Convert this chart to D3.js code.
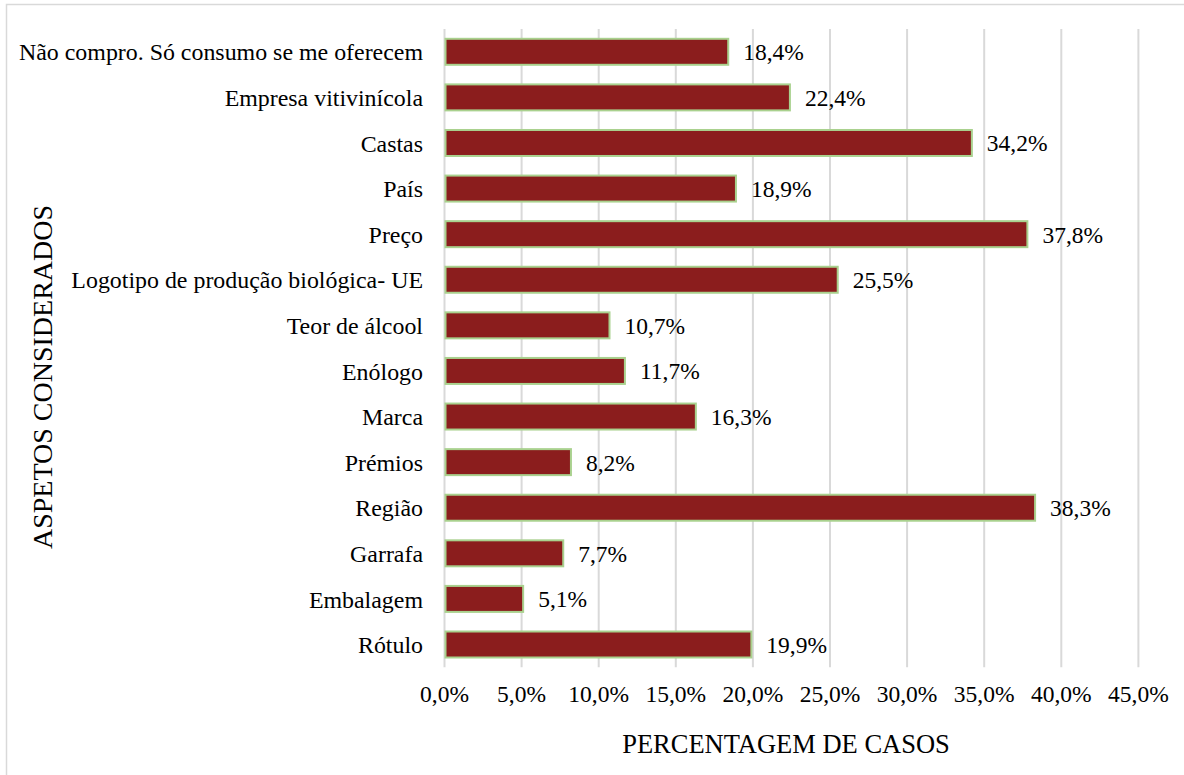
<!DOCTYPE html>
<html>
<head>
<meta charset="utf-8">
<script src="https://cdn.jsdelivr.net/npm/d3@7"></script>
<style>
  html, body { margin: 0; padding: 0; background: #fff; }
</style>
</head>
<body>
<svg id="chart" width="1184" height="775"></svg>
<script>
// Aspects considered when buying wine (% of cases)
const categories = [
  "Não compro. Só consumo se me oferecem",
  "Empresa vitivinícola",
  "Castas",
  "País",
  "Preço",
  "Logotipo de produção biológica- UE",
  "Teor de álcool",
  "Enólogo",
  "Marca",
  "Prémios",
  "Região",
  "Garrafa",
  "Embalagem",
  "Rótulo"
];
const values = [18.4, 22.4, 34.2, 18.9, 37.8, 25.5, 10.7, 11.7, 16.3, 8.2, 38.3, 7.7, 5.1, 19.9];
const xTicks = [0, 5, 10, 15, 20, 25, 30, 35, 40, 45];
const xTitle = "PERCENTAGEM DE CASOS";
const yTitle = "ASPETOS CONSIDERADOS";

const fmt = v => v.toFixed(1).replace(".", ",") + "%";
const FONT = "'Liberation Serif', 'Times New Roman', Times, serif";
const LABEL_SIZE = 23.5;
const CAT_SIZE = 23.9;
const TITLE_SIZE = 26.5;

const svg = d3.select("#chart")
  .attr("font-family", FONT);
const plot = { left: 444.5, right: 1138.4, top: 29, bottom: 667.3 };

// outer frame
svg.append("rect")
  .attr("x", 6.5).attr("y", 4.5).attr("width", 1190).attr("height", 790)
  .attr("fill", "none").attr("stroke", "#d9d9d9").attr("stroke-width", 1.5);

const x = d3.scaleLinear().domain([0, 45]).range([plot.left, plot.right]);
const y = d3.scaleBand().domain(categories).range([plot.top, plot.bottom]).paddingInner(0.43).paddingOuter(0.215);

// vertical gridlines
svg.append("g").selectAll("line").data(xTicks).join("line")
  .attr("x1", d => x(d)).attr("x2", d => x(d))
  .attr("y1", plot.top).attr("y2", plot.bottom)
  .attr("stroke", "#d9d9d9").attr("stroke-width", 2);

// bars
svg.append("g").selectAll("rect").data(values).join("rect")
  .attr("x", x(0) + 1)
  .attr("y", (d, i) => y(categories[i]))
  .attr("width", d => x(d) - x(0) - 1)
  .attr("height", y.bandwidth())
  .attr("fill", "#8b1d1d")
  .attr("stroke", "#a9d18e")
  .attr("stroke-width", 2);

// value labels
svg.append("g").selectAll("text").data(values).join("text")
  .attr("x", d => x(d) + 15)
  .attr("y", (d, i) => y(categories[i]) + y.bandwidth() / 2)
  .attr("dy", "0.36em")
  .attr("font-family", FONT)
  .attr("font-size", LABEL_SIZE)
  .text(d => fmt(d));

// category labels
svg.append("g").selectAll("text").data(categories).join("text")
  .attr("x", 423)
  .attr("y", d => y(d) + y.bandwidth() / 2)
  .attr("dy", "0.36em")
  .attr("text-anchor", "end")
  .attr("font-family", FONT)
  .attr("font-size", CAT_SIZE)
  .text(d => d);

// x tick labels
svg.append("g").selectAll("text").data(xTicks).join("text")
  .attr("x", d => x(d))
  .attr("y", 702)
  .attr("text-anchor", "middle")
  .attr("font-family", FONT)
  .attr("font-size", LABEL_SIZE)
  .text(d => fmt(d));

// axis titles
svg.append("text")
  .attr("x", 786).attr("y", 753)
  .attr("text-anchor", "middle")
  .attr("font-family", FONT)
  .attr("font-size", TITLE_SIZE)
  .text(xTitle);

svg.append("text")
  .attr("transform", "translate(52,377) rotate(-90)")
  .attr("text-anchor", "middle")
  .attr("font-family", FONT)
  .attr("font-size", 28)
  .text(yTitle);
</script>
</body>
</html>
